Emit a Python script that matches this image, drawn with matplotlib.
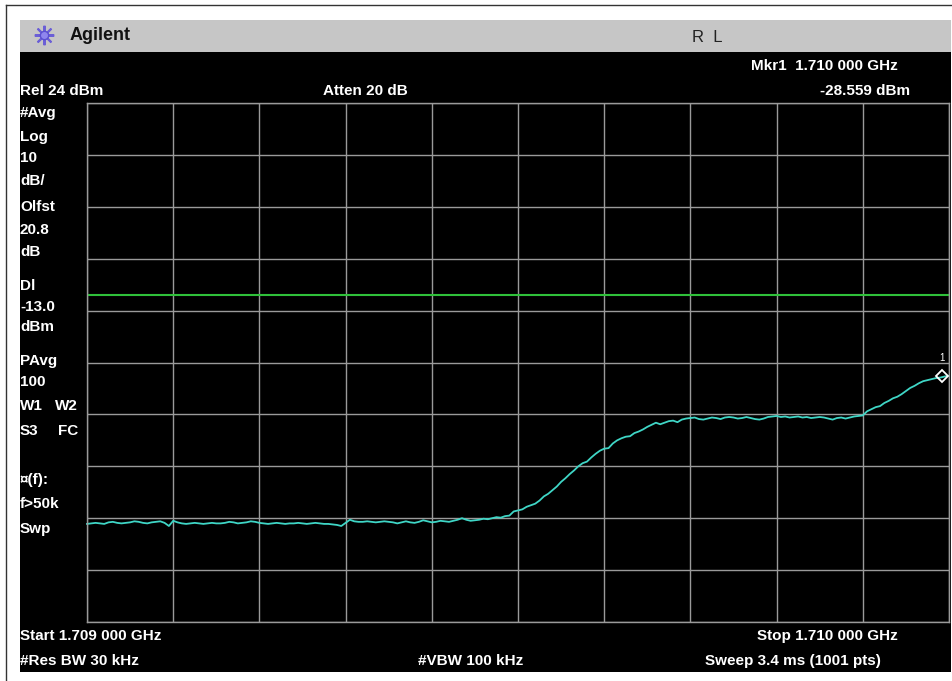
import matplotlib
matplotlib.use("Agg")
import matplotlib.pyplot as plt
from matplotlib.patches import Rectangle
from matplotlib.lines import Line2D
import numpy as np

# sweep: 1.709 000 GHz .. 1.710 000 GHz, offsets in kHz, 5 kHz steps
start_ghz = 1.709
stop_ghz = 1.710
offset_khz = list(range(0, 1001, 5))
level_dbm = [
    -57.1, -57.0, -56.9, -57.0, -57.1, -56.8, -56.7, -56.9, -57.0, -56.9,
    -56.8, -56.6, -56.7, -56.9, -57.0, -56.8, -56.7, -56.6, -56.9, -57.5,
    -56.5, -56.8, -57.0, -57.1, -57.0, -56.9, -57.0, -57.1, -57.0, -56.9,
    -57.0, -57.0, -56.9, -56.7, -56.8, -57.0, -56.9, -56.8, -56.6, -56.7,
    -56.9, -57.0, -57.1, -57.0, -56.9, -57.0, -57.1, -57.0, -57.0, -56.9,
    -57.0, -57.1, -57.0, -56.9, -57.0, -57.1, -57.1, -57.2, -57.3, -57.5,
    -56.9, -56.3, -56.6, -56.7, -56.7, -56.6, -56.7, -56.8, -56.7, -56.6,
    -56.7, -56.8, -57.0, -56.8, -56.6, -56.8, -56.9, -56.7, -56.4, -56.6,
    -56.8, -56.7, -56.5, -56.6, -56.7, -56.5, -56.3, -56.0, -56.3, -56.5,
    -56.4, -56.3, -56.1, -56.2, -56.0, -55.8, -55.9, -55.6, -55.5, -54.7,
    -54.5, -54.3, -53.8, -53.5, -53.2, -52.6, -51.8, -51.3, -50.6, -49.9,
    -49.0, -48.3, -47.5, -46.8, -46.0, -45.4, -45.1, -44.3, -43.6, -43.0,
    -42.6, -42.5, -41.6, -41.0, -40.6, -40.3, -40.2, -39.6, -39.3, -38.9,
    -38.4, -38.0, -37.6, -37.9, -37.6, -37.3, -37.2, -37.5, -37.0, -36.8,
    -36.7, -36.6, -36.9, -37.0, -36.8, -36.6, -36.7, -36.9, -36.6, -36.5,
    -36.6, -36.8, -36.7, -36.5, -36.7, -36.9, -37.0, -36.8, -36.5, -36.4,
    -36.3, -36.5, -36.4, -36.6, -36.5, -36.4, -36.6, -36.5, -36.7, -36.6,
    -36.5, -36.6, -36.8, -37.0, -36.7, -36.6, -36.8, -36.6, -36.4, -36.3,
    -36.2, -35.4, -35.0, -34.6, -34.4, -33.8, -33.4, -32.9, -32.6, -32.1,
    -31.5, -30.9, -30.5, -30.0, -29.6, -29.4, -29.2, -29.0, -28.9, -28.7,
    -28.559,
]
ref_level = 24.0
db_per_div = 10.0
display_line = -13.0
marker_khz = 1000
marker_dbm = -28.559

left_labels = [("#Avg", 113), ("Log", 137), ("10", 158), ("dB/", 181),
               ("Olfst", 207), ("20.8", 230), ("dB", 252), ("Dl", 286),
               ("-13.0", 307), ("dBm", 327), ("PAvg", 361), ("100", 382),
               ("W1", 406), ("S3", 431), ("\u00a4(f):", 480),
               ("f>50k", 504), ("Swp", 529)]

W, H = 953, 681
fig = plt.figure(figsize=(W / 100, H / 100), dpi=100)
fig.patch.set_facecolor("white")

FONT = ["Liberation Sans", "DejaVu Sans"]


def fx(px):
    return px / W


def fy(py):
    return 1 - py / H


def label(x, y, s, ha="left", size=11, color="white", weight="bold"):
    fig.text(fx(x), fy(y), s, ha=ha, va="center", fontsize=size,
             color=color, fontweight=weight, family=FONT)


# outer frame lines
fig.add_artist(Line2D([fx(6), 1], [fy(5), fy(5)], color="#333333", lw=1,
                      zorder=-5))
fig.add_artist(Line2D([fx(6), fx(6)], [fy(5), 0], color="#333333", lw=1,
                      zorder=-5))

# title bar and black screen
fig.add_artist(Rectangle((fx(20), fy(52)), fx(931), 32 / H,
                         facecolor="#c6c6c6", edgecolor="none", zorder=-5))
fig.add_artist(Rectangle((fx(20), fy(672)), fx(931), 620 / H,
                         facecolor="black", edgecolor="none", zorder=-5))

# agilent logo
fig.add_artist(Line2D([fx(44)], [fy(35)], marker=(8, 2, 0), markersize=14,
                      color="#6b5fd6", mew=1.5))
fig.add_artist(Line2D([fx(44)], [fy(35)], marker="o", markersize=6,
                      color="#8f86ee", mec="#5a4fd0"))
label(70, 36, "Agilent", size=13, color="#111111")
label(692, 37, "R  L", size=12, color="#222222", weight="normal")

label(898, 66, "Mkr1  1.710 000 GHz", ha="right")
label(910, 91, "-28.559 dBm", ha="right")
label(20, 91, "Rel 24 dBm")
label(323, 91, "Atten 20 dB")

for s, y in left_labels:
    label(20, y, s)
label(55, 406, "W2")
label(58, 431, "FC")

label(20, 636, "Start 1.709 000 GHz")
label(898, 636, "Stop 1.710 000 GHz", ha="right")
label(20, 661, "#Res BW 30 kHz")
label(418, 661, "#VBW 100 kHz")
label(705, 661, "Sweep 3.4 ms (1001 pts)")

# graticule
ax = fig.add_axes([fx(87), fy(622), (949 - 87) / W, (622 - 103) / H])
ax.set_facecolor("black")
bottom = ref_level - 10 * db_per_div
ax.set_xlim(0, 1000)
ax.set_ylim(bottom, ref_level)
ax.set_xticks(np.arange(0, 1001, 100))
ax.set_yticks(np.arange(bottom, ref_level + 1, db_per_div))
ax.grid(True, color="#9a9a9a", lw=1)
ax.tick_params(length=0, labelbottom=False, labelleft=False)
for sp in ax.spines.values():
    sp.set_color("#9a9a9a")
    sp.set_linewidth(1)

ax.axhline(display_line, color="#2fc03a", lw=1.5)
ax.plot(offset_khz, level_dbm, color="#3fd6c6", lw=1.3, clip_on=False)
ax.plot([marker_khz - 8], [marker_dbm], marker="D", ms=6, mfc="none",
        mec="white", mew=1.3, clip_on=False)
ax.text(marker_khz - 8, marker_dbm + 3.5, "1", color="white", fontsize=7,
        ha="center", va="center", family=FONT)

fig.savefig("out.png", dpi=100, facecolor="white")
